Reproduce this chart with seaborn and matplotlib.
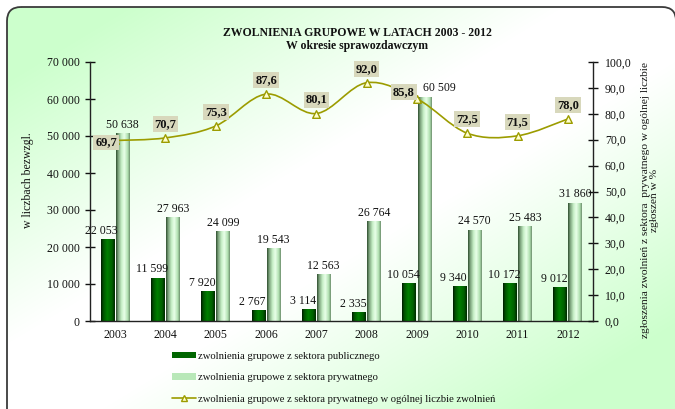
import numpy as np
import pandas as pd
import matplotlib
matplotlib.use("Agg")
import matplotlib.pyplot as plt
import seaborn as sns
from matplotlib.colors import LinearSegmentedColormap
from matplotlib.patches import FancyBboxPatch, Patch, PathPatch
from matplotlib.path import Path
from matplotlib.lines import Line2D

years = ["2003", "2004", "2005", "2006", "2007", "2008", "2009", "2010", "2011", "2012"]
public = [22053, 11599, 7920, 2767, 3114, 2335, 10054, 9340, 10172, 9012]
private = [50638, 27963, 24099, 19543, 12563, 26764, 60509, 24570, 25483, 31860]
share = [69.7, 70.7, 75.3, 87.6, 80.1, 92.0, 85.8, 72.5, 71.5, 78.0]

lab_public = "zwolnienia grupowe z sektora publicznego"
lab_private = "zwolnienia grupowe z sektora prywatnego"
lab_share = "zwolnienia grupowe z sektora prywatnego w ogólnej liczbie zwolnień"

sns.set_theme(style="white")
plt.rcParams["font.family"] = ["Liberation Serif", "DejaVu Serif"]
plt.rcParams["text.color"] = "#111111"

W, H = 675, 409
fig = plt.figure(figsize=(W / 100, H / 100), dpi=100)

# background: diagonal green-white-green gradient inside rounded frame
bg = fig.add_axes([0, 0, 1, 1], zorder=-10)
bg.set_axis_off()
bg.set_xlim(0, W)
bg.set_ylim(H, 0)
yy, xx = np.mgrid[0:H, 0:W]
d = (xx / W + yy / H) / 2
f = np.clip((np.abs(d - 0.5) * 2 - 0.15) / 0.65, 0, 1)
img = np.ones((H, W, 3))
green = np.array([0.80, 1.0, 0.80])
img = img * (1 - f[..., None]) + green * f[..., None]
frame = FancyBboxPatch((7, 7), 669, 420, boxstyle="round,pad=0,rounding_size=14",
                       fc="none", ec="#3a3a3a", lw=1.3, transform=bg.transData)
bg.add_patch(frame)
im = bg.imshow(img, extent=[0, W, H, 0], aspect="auto")
im.set_clip_path(frame)
bg.set_xlim(0, W)
bg.set_ylim(H, 0)

ax = fig.add_axes([90 / W, 1 - 321 / H, 503 / W, 259 / H])
ax.patch.set_alpha(0)

df = pd.DataFrame({
    "year": years * 2,
    "value": public + private,
    "series": [lab_public] * len(years) + [lab_private] * len(years),
})
sns.barplot(data=df, x="year", y="value", hue="series", palette=["#006600", "#ccffcc"],
            width=0.6, gap=0.08, saturation=1, legend=False, ax=ax)

# cylinder-like shading on bars
cm_pub = LinearSegmentedColormap.from_list("pub", [(0, "#001a00"), (0.15, "#005000"), (0.45, "#008000"),
                                                   (0.8, "#006000"), (1, "#002800")])
cm_pri = LinearSegmentedColormap.from_list("pri", [(0, "#2f4f2f"), (0.15, "#7aa07a"), (0.4, "#c8f0c8"),
                                                   (0.6, "#e8ffe8"), (0.85, "#b0e0b0"), (1, "#6f906f")])
grad = np.linspace(0, 1, 64)[None, :]
bars = [p for p in ax.patches if p.get_height() > 0]
for p in bars:
    fc = p.get_facecolor()
    cm = cm_pub if fc[0] < 0.5 else cm_pri
    x0, w, h = p.get_x(), p.get_width(), p.get_height()
    ax.imshow(grad, cmap=cm, extent=[x0, x0 + w, 0, h], aspect="auto", zorder=2)
    p.set_visible(False)

n = len(years)
ax.set_xlim(-0.5, n - 0.5)
ax.set_ylim(0, 70000)
ax.set_yticks(range(0, 70001, 10000))
ax.set_yticklabels([f"{v:,}".replace(",", " ") for v in range(0, 70001, 10000)])
ax.set_xticks(range(n))
ax.set_xticklabels(years)
ax.set_xticks(np.arange(-0.5, n), minor=True)
ax.set_xlabel("")
ax.set_ylabel("")
ax.tick_params(axis="x", which="major", length=0, pad=6, labelsize=8.5, colors="#111111")
ax.tick_params(axis="x", which="minor", length=7, direction="inout", width=1, color="#222222")
ax.tick_params(axis="y", length=7, direction="inout", width=1, pad=4, labelsize=8.5,
               colors="#111111", left=True)
for s in ["top", "right"]:
    ax.spines[s].set_visible(False)
for s in ["left", "bottom"]:
    ax.spines[s].set_color("#222222")
    ax.spines[s].set_linewidth(1)

# bar value labels
sp = lambda v: f"{v:,}".replace(",", " ")
bw = 0.29
for i in range(n):
    ax.annotate(sp(public[i]), (i - bw / 2, public[i]), xytext=(-4.5, 2), textcoords="offset points",
                ha="center", va="bottom", fontsize=8.5, zorder=5)
    dx = 11 if years[i] == "2009" else 0
    ax.annotate(sp(private[i]), (i + bw / 2, private[i]), xytext=(dx, 2), textcoords="offset points",
                ha="center", va="bottom", fontsize=8.5, zorder=5)

# share line on secondary axis
ax2 = ax.twinx()
ax2.set_ylim(0, 100)
ax2.set_yticks(range(0, 101, 10))
ax2.set_yticklabels([f"{v:.1f}".replace(".", ",") for v in range(0, 101, 10)])
ax2.tick_params(axis="y", length=7, direction="inout", width=1, pad=5, labelsize=8.5,
                colors="#111111", right=True)
for s in ["top", "left", "bottom"]:
    ax2.spines[s].set_visible(False)
ax2.spines["right"].set_color("#222222")
ax2.spines["right"].set_linewidth(1)

xs = np.arange(n, dtype=float)
pts = np.column_stack([xs, share])
ext = np.vstack([pts[0], pts, pts[-1]])
verts = [tuple(pts[0])]
codes = [Path.MOVETO]
for i in range(n - 1):
    p0, p1, p2, p3 = ext[i], ext[i + 1], ext[i + 2], ext[i + 3]
    c1 = p1 + (p2 - p0) / 6
    c2 = p2 - (p3 - p1) / 6
    verts += [tuple(c1), tuple(c2), tuple(p2)]
    codes += [Path.CURVE4] * 3
ax2.add_patch(PathPatch(Path(verts, codes), fc="none", ec="#9c9c00", lw=1.2, zorder=3))
sns.scatterplot(x=xs, y=share, marker="^", s=30, color="#ffffcc", edgecolor="#9c9c00",
                linewidth=1, zorder=4, ax=ax2)

for i, v in enumerate(share):
    off = (0, 10)
    if years[i] == "2003":
        off = (-6.5, -1.5)
    elif years[i] == "2009":
        off = (-9.5, 5)
    ax2.annotate(f"{v:.1f}".replace(".", ","), (i, v), xytext=off, textcoords="offset points",
                 ha="center", va="center", fontsize=9, fontweight="bold", zorder=6,
                 bbox=dict(boxstyle="square,pad=0.15", fc="#d8d8bc", ec="none"))

# titles and axis labels
fig.text(357 / W, 1 - 33 / H, "ZWOLNIENIA GRUPOWE W LATACH 2003 - 2012", ha="center", va="center",
         fontsize=8.5, fontweight="bold")
fig.text(357 / W, 1 - 46 / H, "W okresie sprawozdawczym", ha="center", va="center",
         fontsize=8.5, fontweight="bold")
fig.text(28 / W, 1 - 180 / H, "w liczbach bezwzgl.", rotation=90, ha="center", va="center", fontsize=8.5)
fig.text(650 / W, 1 - 200 / H, "zgłoszenia zwolnień z sektora  prywatnego w ogólnej liczbie\nzgłoszeń w %",
         rotation=90, ha="center", va="center", multialignment="center", fontsize=8.2, linespacing=1.0)

handles = [
    Patch(facecolor="#006600", edgecolor="none"),
    Patch(facecolor="#b8e8b8", edgecolor="none"),
    Line2D([], [], color="#9c9c00", lw=1.2, marker="^", ms=5, mfc="#ffffcc", mec="#9c9c00"),
]
fig.legend(handles, [lab_public, lab_private, lab_share], loc="upper left",
           bbox_to_anchor=(172 / W, 1 - 352 / H), frameon=False, fontsize=7.7,
           handlelength=2.2, handleheight=0.5, handletextpad=0.2, labelspacing=1.15,
           borderaxespad=0, borderpad=0)

fig.savefig("out.png", dpi=100)
